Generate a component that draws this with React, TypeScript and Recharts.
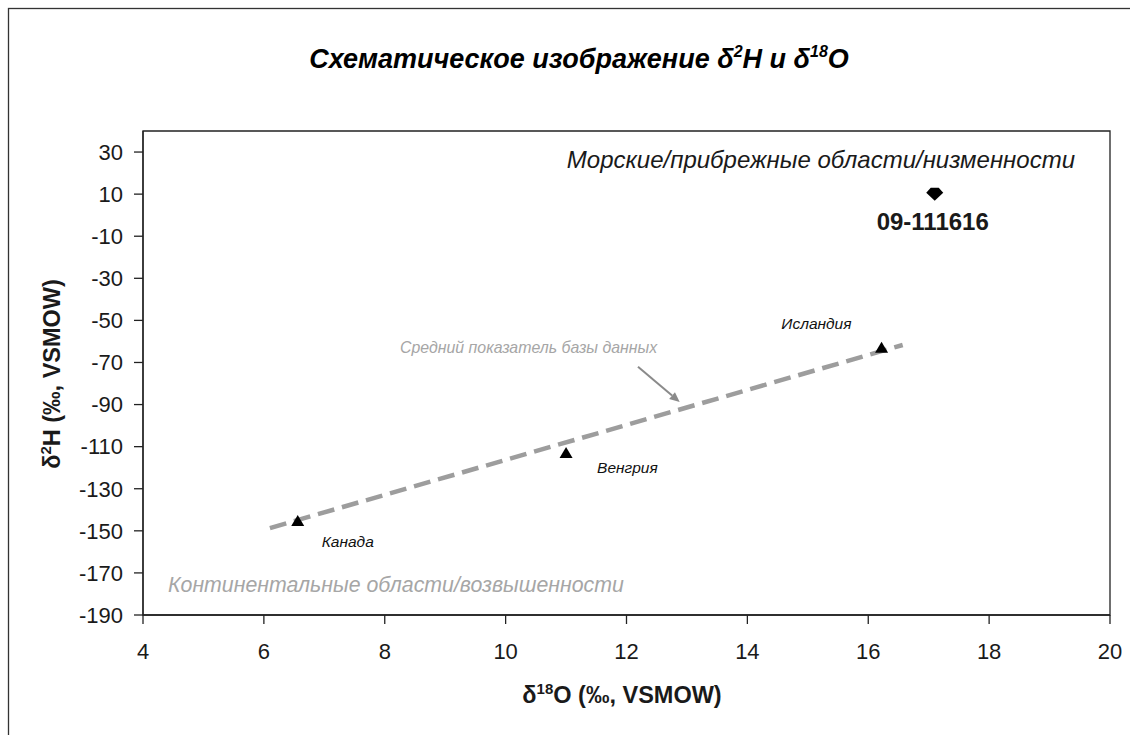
import React from "react";
import {
  ComposedChart,
  Scatter,
  XAxis,
  YAxis,
  ReferenceLine,
  ReferenceArea,
} from "recharts";

// sample sites (δ18O, δ2H)
const countries = ["Канада", "Венгрия", "Исландия"];
const countryO18 = [6.56, 11.0, 16.22];
const countryH2 = [-145.3, -113, -63];

const sampleIds = ["09-111616"];
const sampleO18 = [17.1];
const sampleH2 = [10];

// database mean line + arrow pointing at it
const meanLineO18 = [6.1, 16.57];
const meanLineH2 = [-148.7, -61.7];
const arrowO18 = [12.19, 12.88];
const arrowH2 = [-72, -88.8];

const xTicks = [4, 6, 8, 10, 12, 14, 16, 18, 20];
const yTicks = [-190, -170, -150, -130, -110, -90, -70, -50, -30, -10, 10, 30];

const countryData = countries.map((name, i) => ({
  name,
  x: countryO18[i],
  y: countryH2[i],
}));
const sampleData = sampleIds.map((name, i) => ({
  name,
  x: sampleO18[i],
  y: sampleH2[i],
}));

const FONT = "'Liberation Sans', Arial, sans-serif";

const labelPos: Record<string, { dx: number; dy: number; anchor: string }> = {
  Канада: { dx: 24, dy: 26, anchor: "start" },
  Венгрия: { dx: 31, dy: 20, anchor: "start" },
  Исландия: { dx: -30, dy: -19, anchor: "end" },
};

function Triangle(props: any) {
  const { cx, cy, payload } = props;
  const pos = labelPos[payload.name];
  return (
    <g>
      <polygon
        points={`${cx},${cy - 6} ${cx + 6.5},${cy + 5} ${cx - 6.5},${cy + 5}`}
        fill="#000"
      />
      <text
        x={cx + pos.dx}
        y={cy + pos.dy}
        textAnchor={pos.anchor as any}
        fontFamily={FONT}
        fontStyle="italic"
        fontSize={15.5}
        fill="#111"
      >
        {payload.name}
      </text>
    </g>
  );
}

function Gem(props: any) {
  const { cx, cy, payload } = props;
  return (
    <g>
      <polygon
        points={`${cx - 4},${cy - 6.5} ${cx + 4},${cy - 6.5} ${cx + 8.5},${cy - 1.5} ${cx},${cy + 6.5} ${cx - 8.5},${cy - 1.5}`}
        fill="#000"
      />
      <text
        x={cx - 2}
        y={cy + 36}
        textAnchor="middle"
        fontFamily={FONT}
        fontWeight="bold"
        fontSize={24}
        fill="#1a1a1a"
      >
        {payload.name}
      </text>
    </g>
  );
}

function Arrow(props: any) {
  const { x1, y1, x2, y2 } = props;
  const a = Math.atan2(y2 - y1, x2 - x1);
  const len = 10;
  const w = 4.5;
  const bx = x2 - len * Math.cos(a);
  const by = y2 - len * Math.sin(a);
  const px = -Math.sin(a) * w;
  const py = Math.cos(a) * w;
  return (
    <g>
      <line x1={x1} y1={y1} x2={bx} y2={by} stroke="#8a8a8a" strokeWidth={2} />
      <polygon
        points={`${x2},${y2} ${bx + px},${by + py} ${bx - px},${by - py}`}
        fill="#8a8a8a"
      />
    </g>
  );
}

export default function App() {
  return (
    <div style={{ position: "relative", width: 1130, height: 735, overflow: "hidden", background: "#fff" }}>
      <style>{`body{margin:0;overflow:hidden}`}</style>
      <ComposedChart
        width={1130}
        height={735}
        margin={{ top: 131, right: 20, bottom: 60, left: 0 }}
      >
        <XAxis
          type="number"
          dataKey="x"
          domain={[4, 20]}
          ticks={xTicks}
          height={60}
          tickSize={9}
          tickMargin={19}
          stroke="#222"
          strokeWidth={1.3}
          tick={{ fontSize: 22, fill: "#1a1a1a", fontFamily: FONT }}
        />
        <YAxis
          type="number"
          dataKey="y"
          domain={[-190, 40]}
          ticks={yTicks}
          width={143}
          tickSize={9}
          tickMargin={11}
          stroke="#222"
          strokeWidth={1.3}
          tick={{ fontSize: 22, fill: "#1a1a1a", fontFamily: FONT }}
        />
        <ReferenceArea
          x1={4}
          x2={20}
          y1={-190}
          y2={40}
          fill="none"
          stroke="#222"
          strokeWidth={1.3}
        />
        <Scatter data={countryData} shape={<Triangle />} isAnimationActive={false} />
        <Scatter data={sampleData} shape={<Gem />} isAnimationActive={false} />
        <ReferenceLine
          segment={[
            { x: meanLineO18[0], y: meanLineH2[0] },
            { x: meanLineO18[1], y: meanLineH2[1] },
          ]}
          stroke="#9d9d9d"
          strokeWidth={4.5}
          strokeDasharray="17 8"
        />
        <ReferenceLine
          segment={[
            { x: arrowO18[0], y: arrowH2[0] },
            { x: arrowO18[1], y: arrowH2[1] },
          ]}
          shape={<Arrow />}
        />
      </ComposedChart>
      <svg
        width={1130}
        height={735}
        style={{ position: "absolute", left: 0, top: 0, pointerEvents: "none" }}
        fontFamily={FONT}
      >
        <rect x={8.5} y={8.5} width={1200} height={800} fill="none" stroke="#333" strokeWidth={1.3} />
        <text x={579} y={68} textAnchor="middle" fontSize={27} fontWeight="bold" fontStyle="italic" fill="#000">
          Схематическое изображение δ
          <tspan dy={-11} fontSize={16}>2</tspan>
          <tspan dy={11}>H и δ</tspan>
          <tspan dy={-11} fontSize={16}>18</tspan>
          <tspan dy={11}>O</tspan>
        </text>
        <text x={1075} y={168} textAnchor="end" fontSize={24} fontStyle="italic" fill="#1a1a1a">
          Морские/прибрежные области/низменности
        </text>
        <text x={168} y={592} fontSize={21.3} fontStyle="italic" fill="#a6a6a6">
          Континентальные области/возвышенности
        </text>
        <text x={400} y={353} fontSize={15.9} fontStyle="italic" fill="#a6a6a6">
          Средний показатель базы данных
        </text>
        <text x={622} y={703} textAnchor="middle" fontSize={23.5} fontWeight="bold" fill="#1a1a1a">
          δ<tspan dy={-9} fontSize={15}>18</tspan>
          <tspan dy={9}>O (‰, VSMOW)</tspan>
        </text>
        <text
          x={0}
          y={0}
          transform="translate(60,374) rotate(-90)"
          textAnchor="middle"
          fontSize={23.5}
          fontWeight="bold"
          fill="#1a1a1a"
        >
          δ<tspan dy={-9} fontSize={15}>2</tspan>
          <tspan dy={9}>H (‰, VSMOW)</tspan>
        </text>
      </svg>
    </div>
  );
}
